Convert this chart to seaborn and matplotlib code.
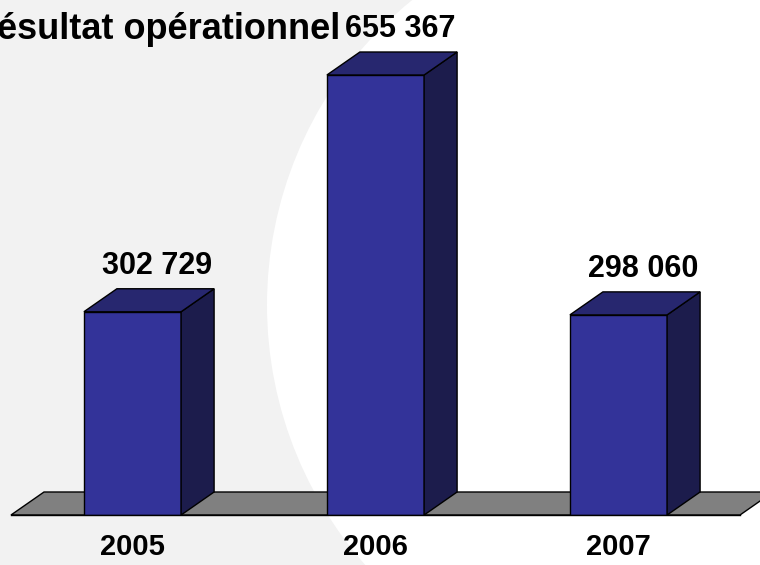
#=====================================================================================================
# Program Name     : ResultatOperationnelChart
# Description      : Draws the operating result per year as pseudo 3D bars on a grey floor.
# Output           : out.png
#=====================================================================================================

import matplotlib
matplotlib.use("Agg")
import matplotlib.pyplot as plt
import seaborn as sns
import pandas as pd
from matplotlib.patches import Polygon, Ellipse

#-----------------------------------------------------------------------------------------------------
# Data
#-----------------------------------------------------------------------------------------------------
years = ["2005", "2006", "2007"]
resultat = [302729, 655367, 298060]
value_labels = ["302 729", "655 367", "298 060"]
title_text = "Résultat opérationnel"

FRONT = "#333399"
TOP = "#27276f"
SIDE = "#1c1c4c"
FLOOR = "#808080"
BACKGROUND = "#f2f2f2"

#-----------------------------------------------------------------------------------------------------
# Function Name    : plot_resultat
# Description      : Front faces come from seaborn, top / side faces and floor are polygons
#                    offset by a fixed depth in data units.
#-----------------------------------------------------------------------------------------------------
def plot_resultat(df):
    sns.set_style("white")
    plt.rcParams['font.family'] = ['Liberation Sans', 'DejaVu Sans']

    W, H = 760, 565
    fig = plt.figure(figsize=(W / 100, H / 100), dpi=100)
    fig.patch.set_facecolor(BACKGROUND)

    base_px = 515                      # pixel row of the zero line (from top)
    ax = fig.add_axes([0, (H - base_px) / H, 1, base_px / H])
    ax.patch.set_alpha(0)

    # white disc of the slide background
    disc = Ellipse((660 / W, 1 - 305 / H), 2 * 393 / W, 2 * 393 / H,
                   transform=fig.transFigure, facecolor="white", edgecolor="none",
                   zorder=-5, clip_on=False)
    ax.add_patch(disc)

    per_px = 655367 / 440.0            # value units per pixel
    slot = 243.0                       # pixels between categories
    dx = 33 / slot                     # depth offset in x (data units)
    dy = 23 * per_px                   # depth offset in y (data units)
    width = 0.4

    # floor
    floor = Polygon([(-0.5, 0), (2.5, 0), (2.5 + dx, dy), (-0.5 + dx, dy)],
                    closed=True, facecolor=FLOOR, edgecolor="black", linewidth=1, zorder=1)
    ax.add_patch(floor)

    sns.barplot(data=df, x="Annee", y="Resultat", order=years, color=FRONT,
                width=width, edgecolor="black", linewidth=1, saturation=1,
                zorder=3, ax=ax)

    for i, v in enumerate(df["Resultat"]):
        x0, x1 = i - width / 2, i + width / 2
        top = Polygon([(x0, v), (x1, v), (x1 + dx, v + dy), (x0 + dx, v + dy)],
                      closed=True, facecolor=TOP, edgecolor="black", linewidth=1, zorder=3)
        side = Polygon([(x1, 0), (x1 + dx, dy), (x1 + dx, v + dy), (x1, v)],
                       closed=True, facecolor=SIDE, edgecolor="black", linewidth=1, zorder=3)
        ax.add_patch(side)
        ax.add_patch(top)
        ax.text(i + 0.1, v + dy + 15 * per_px, df["Label"][i], ha="center", va="baseline",
                fontsize=22, fontweight="bold", color="black")

    ax.set_xlim(-132.5 / slot, (W - 132.5) / slot)
    ax.set_ylim(0, base_px * per_px)

    for s in ["top", "right", "left"]:
        ax.spines[s].set_visible(False)
    ax.spines["bottom"].set_bounds(-0.5, 2.5)
    ax.spines["bottom"].set_linewidth(1)
    ax.spines["bottom"].set_color("black")
    ax.spines["bottom"].set_zorder(4)

    ax.set_yticks([])
    ax.set_xticks(range(len(years)))
    ax.set_xticklabels(years, fontsize=21, fontweight="bold", color="black")
    ax.set_xticks([-0.5, 0.5, 1.5, 2.5], minor=True)
    ax.tick_params(axis="x", which="major", length=0, pad=13)
    ax.tick_params(axis="x", which="minor", length=7, width=1, direction="out", color="black")
    ax.set_xlabel("")
    ax.set_ylabel("")

    fig.text(340 / W, 1 - 39 / H, title_text, ha="right", va="baseline",
             fontsize=26, fontweight="bold", color="black")

    fig.savefig("out.png", dpi=100, facecolor=fig.get_facecolor())

#-----------------------------------------------------------------------------------------------------
# Function Name    : main
#-----------------------------------------------------------------------------------------------------
def main():
    df = pd.DataFrame({"Annee": years, "Resultat": resultat, "Label": value_labels})
    plot_resultat(df)

if __name__ == "__main__":
    main()
